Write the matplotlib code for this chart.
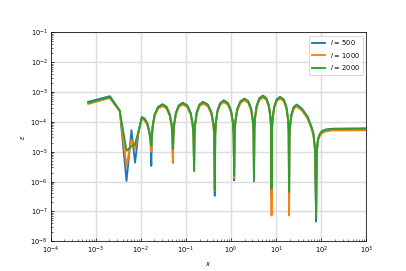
import numpy as np
import matplotlib
matplotlib.use("Agg")
import matplotlib.pyplot as plt

# values, stored as log10
# sparse first samples (differ per series)
early_x = [-3.17, -2.69, -2.47, -2.32, -2.21, -2.13, -2.05]
early_500 = [-3.33, -3.14, -3.62, -5.98, -4.28, -5.37, -4.30]
early_1000 = [-3.40, -3.20, -3.65, -5.48, -4.60, -4.90, -4.32]
early_2000 = [-3.36, -3.17, -3.63, -4.97, -4.82, -4.74, -4.30]

# humps between the zero crossings (same for all three within line width)
hump_x = [-1.98, -1.92, -1.86, -1.81, -1.785,
          -1.757, -1.74, -1.695, -1.62, -1.52, -1.43, -1.36, -1.318, -1.30,
          -1.279, -1.264, -1.224, -1.16, -1.07, -0.97, -0.895, -0.85, -0.832,
          -0.81, -0.796, -0.76, -0.70, -0.62, -0.516, -0.438, -0.39, -0.373,
          -0.35, -0.336, -0.30, -0.24, -0.16, -0.068, 0.0, 0.042, 0.058,
          0.082, 0.098, 0.14, 0.21, 0.30, 0.384, 0.447, 0.485, 0.50,
          0.52, 0.534, 0.57, 0.63, 0.71, 0.786, 0.843, 0.877, 0.89,
          0.91, 0.923, 0.957, 1.014, 1.09, 1.17, 1.23, 1.266, 1.28,
          1.298, 1.31, 1.34, 1.39, 1.46, 1.58, 1.70, 1.78, 1.83, 1.865,
          1.905, 1.93, 1.97, 2.02, 2.10, 2.25, 3.0]
hump_eps = [-3.85, -3.90, -4.05, -4.35, -4.65,
            -4.52, -4.15, -3.76, -3.51, -3.42, -3.51, -3.76, -4.10, -4.50,
            -4.45, -4.10, -3.71, -3.46, -3.37, -3.46, -3.71, -4.10, -4.47,
            -4.44, -4.07, -3.68, -3.43, -3.34, -3.43, -3.68, -4.07, -4.44,
            -4.39, -4.02, -3.63, -3.38, -3.29, -3.38, -3.63, -4.02, -4.39,
            -4.33, -3.96, -3.57, -3.32, -3.23, -3.32, -3.57, -3.96, -4.33,
            -4.23, -3.86, -3.47, -3.22, -3.13, -3.22, -3.47, -3.86, -4.23,
            -4.27, -3.90, -3.51, -3.26, -3.17, -3.26, -3.51, -3.90, -4.27,
            -4.53, -4.16, -3.77, -3.52, -3.43, -3.58, -3.84, -4.15, -4.40, -4.90,
            -5.00, -4.60, -4.42, -4.32, -4.27, -4.24, -4.23]
shift_500 = 0.01
shift_1000 = -0.05
shift_2000 = 0.0

# zero crossings: depth differs per series
dip_x = [-1.77, -1.29, -0.82, -0.36, 0.07, 0.51, 0.90, 1.29, 1.89]
dip_500 = [-5.48, -5.37, -5.60, -6.48, -5.96, -5.99, -6.56, -6.70, -7.34]
dip_1000 = [-5.00, -5.34, -5.55, -6.30, -5.87, -5.95, -7.14, -7.14, -7.00]
dip_2000 = [-4.80, -4.90, -5.65, -6.28, -5.80, -5.93, -6.25, -6.35, -7.20]

labels = ["$l$ = 500", "$l$ = 1000", "$l$ = 2000"]


def series(early, shift, dips):
    xs = early_x + hump_x + dip_x
    ys = early + [v + shift for v in hump_eps] + dips
    order = np.argsort(xs)
    return 10 ** np.array(xs)[order], 10 ** np.array(ys)[order]


plt.rcParams['font.size'] = 8
fig, ax = plt.subplots(figsize=(6, 4), dpi=67.8)

for early, shift, dips, lab in [(early_500, shift_500, dip_500, labels[0]),
                                (early_1000, shift_1000, dip_1000, labels[1]),
                                (early_2000, shift_2000, dip_2000, labels[2])]:
    x, y = series(early, shift, dips)
    ax.plot(x, y, lw=2, label=lab)

ax.set_xscale('log')
ax.set_yscale('log')
ax.set_xlim(1e-4, 1e3)
ax.set_ylim(1e-8, 1e-1)
ax.grid(True, which='major', color='#dddddd', lw=1.5)
ax.tick_params(which='both', direction='in', labelsize=7)
ax.set_xlabel("$x$", fontsize=7)
ax.set_ylabel(r"$\epsilon$", fontsize=7)
ax.legend(loc='upper right', fontsize=7)

plt.savefig("out.png", dpi=67.8)
